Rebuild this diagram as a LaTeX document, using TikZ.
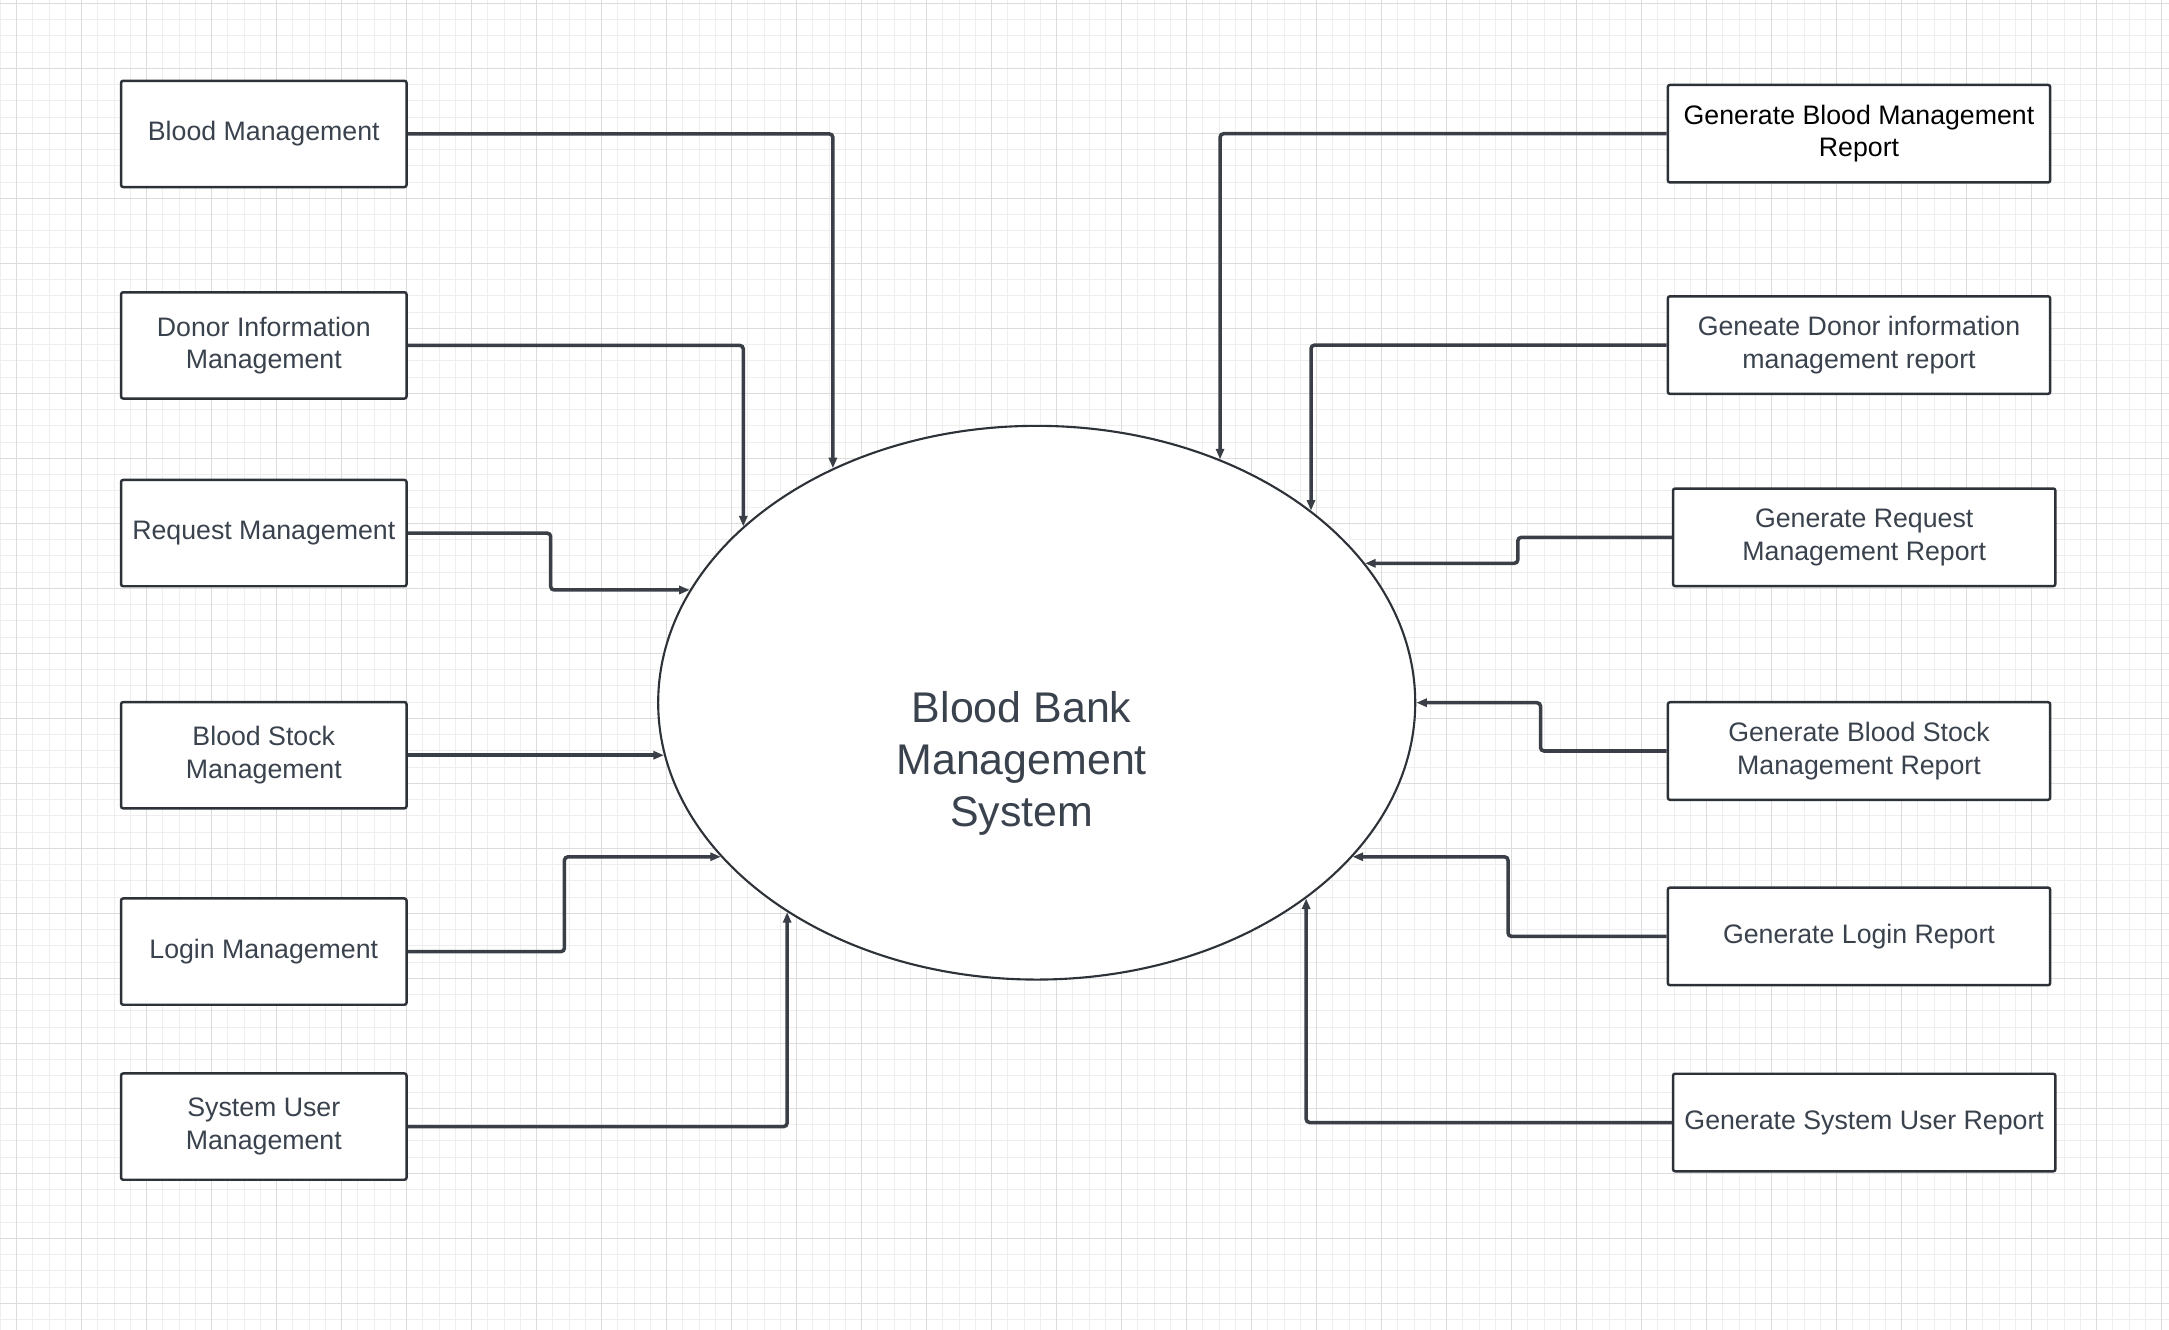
\documentclass[tikz,border=0pt]{standalone}
\usepackage{fontspec}
\setmainfont{Liberation Sans}
\usepackage{tikz}
\usetikzlibrary{arrows.meta}
\usetikzlibrary{shapes.geometric}

\definecolor{linecol}{RGB}{45,49,56}
\definecolor{flowcol}{RGB}{58,63,71}
\definecolor{txtcol}{RGB}{58,66,77}
\definecolor{gridminor}{RGB}{238,238,238}
\definecolor{gridmajor}{RGB}{220,220,220}

\begin{document}
\begin{tikzpicture}[x=0.01cm,y=-0.01cm,
    every node/.style={font=\fontsize{7.6}{9.2}\selectfont,text=txtcol,align=center},
    lbox/.style={draw=linecol,line width=0.7pt,fill=white,rounded corners=0.6pt,minimum width=2.853cm,minimum height=1.062cm,inner sep=2pt},
    rbox/.style={draw=linecol,line width=0.7pt,fill=white,rounded corners=0.6pt,minimum width=3.821cm,minimum height=0.975cm,inner sep=2pt},
    flow/.style={draw=flowcol,line width=1pt,rounded corners=1pt,-{Triangle[length=3pt,width=2.3pt]}}]
    %grid
    \useasboundingbox[fill=white] (0,0) rectangle (2169,1330);
    \foreach \x in {0.45,16.7,...,2170} \draw[gridminor,line width=0.3pt] (\x,0) -- (\x,1330);
    \foreach \y in {3.3,19.55,...,1331} \draw[gridminor,line width=0.3pt] (0,\y) -- (2169,\y);
    \foreach \x in {16.7,81.7,...,2170} \draw[gridmajor,line width=0.4pt] (\x,0) -- (\x,1330);
    \foreach \y in {3.3,68.3,...,1331} \draw[gridmajor,line width=0.4pt] (0,\y) -- (2169,\y);
    %process
    \node[ellipse,draw=linecol,line width=0.6pt,fill=white,minimum width=7.566cm,minimum height=5.534cm,inner sep=0pt] (sys) at (1036.7,702.7) {};
    \node[font=\fontsize{12.2}{14.8}\selectfont] (sysname) at (1021.7,763) {Blood Bank\\Management\\System};
    %inputs
    \node[lbox] (bm) at (263.8,133.9) {Blood Management};
    \node[lbox] (dim) at (263.8,345.4) {Donor Information\\Management};
    \node[lbox] (rqm) at (263.8,533.1) {Request Management};
    \node[lbox] (bsm) at (263.8,755.2) {Blood Stock\\Management};
    \node[lbox] (lgm) at (263.8,951.6) {Login Management};
    \node[lbox] (sum) at (263.8,1126.6) {System User\\Management};
    %reports
    \node[rbox,text=black] (gbr) at (1859,133.7) {Generate Blood Management\\Report};
    \node[rbox] (gdr) at (1859,345.1) {Geneate Donor information\\management report};
    \node[rbox] (grr) at (1864.2,537.3) {Generate Request\\Management Report};
    \node[rbox] (gsr) at (1859,751) {Generate Blood Stock\\Management Report};
    \node[rbox] (glr) at (1859,936.4) {Generate Login Report};
    \node[rbox] (gur) at (1864.2,1122.5) {Generate System User Report};
    \draw[flow] (bm.east) -| (sys.131);
    \draw[flow] (dim.east) -| (sys.149);
    \draw[flow] (rqm.east) -- ++(142.9,0) |- (sys.162);
    \draw[flow] (bsm.east) -- (bsm.east -| sys.188);
    \draw[flow] (lgm.east) -- ++(156.7,0) |- (sys.206);
    \draw[flow] (sum.east) -| (sys.220);
    \draw[flow] (gbr.west) -| (sys.53);
    \draw[flow] (gdr.west) -| (sys.35);
    \draw[flow] (grr.west) -- ++(-154,0) |- (sys.23);
    \draw[flow] (gsr.west) -- ++(-126.1,0) |- (sys.east);
    \draw[flow] (glr.west) -- ++(-158.6,0) |- (sys.334);
    \draw[flow] (gur.west) -| (sys.324);
\end{tikzpicture}
\end{document}
